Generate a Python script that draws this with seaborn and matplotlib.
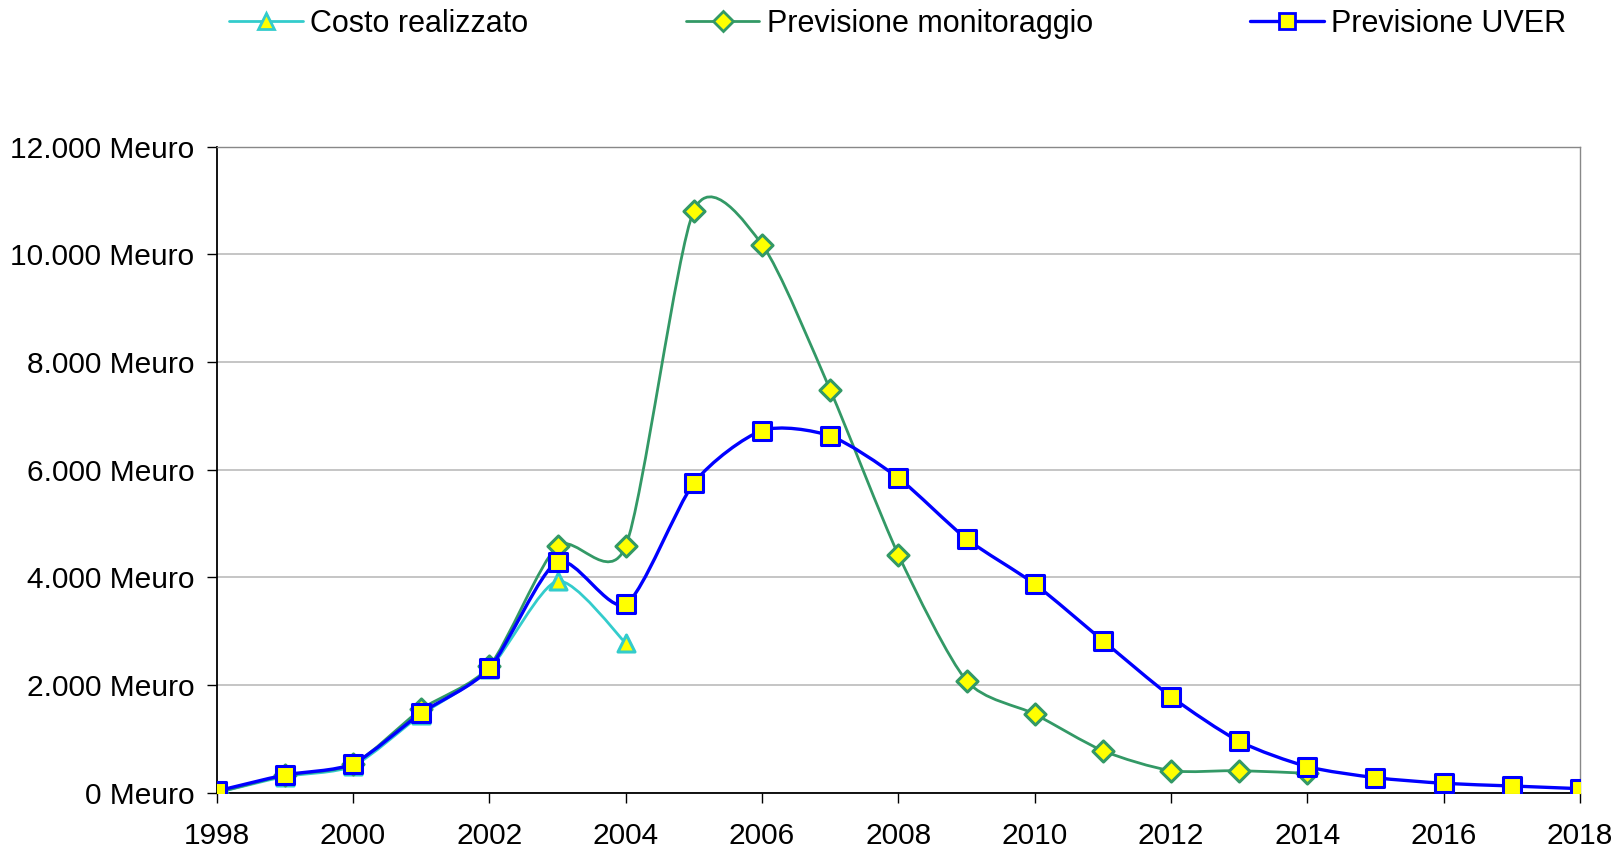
import numpy as np
import pandas as pd
import matplotlib
matplotlib.use("Agg")
import matplotlib.pyplot as plt
import seaborn as sns
from matplotlib.path import Path
from matplotlib.patches import PathPatch
from matplotlib.lines import Line2D
from matplotlib.ticker import FuncFormatter, MultipleLocator

# ---- data ----
years_costo = [1998, 1999, 2000, 2001, 2002, 2003, 2004]
costo = [0, 300, 500, 1450, 2300, 3930, 2780]

years_monit = list(range(1998, 2015))
monit = [0, 320, 530, 1550, 2350, 4580, 4580, 10810, 10180, 7480,
         4420, 2080, 1460, 780, 410, 410, 360]

years_uver = list(range(1998, 2019))
uver = [30, 330, 540, 1480, 2310, 4290, 3500, 5750, 6725, 6625,
        5845, 4715, 3875, 2825, 1785, 955, 485, 280, 175, 125, 75]

labels = ["Costo realizzato", "Previsione monitoraggio", "Previsione UVER"]
colors = ["#33CCCC", "#339966", "#0000FF"]
markers = ["^", "D", "s"]

sns.set_theme(style="white")
plt.rcParams['font.family'] = ['Liberation Sans', 'DejaVu Sans']
plt.rcParams['text.color'] = 'black'
plt.rcParams['xtick.color'] = 'black'
plt.rcParams['ytick.color'] = 'black'

fig = plt.figure(figsize=(16.15, 8.49), dpi=100)
ax = fig.add_axes([0.1342, 0.0663, 0.8441, 0.7611])

TENSION = 0.125


def smooth_path(xs, ys):
    """Excel-like smoothed line: cubic Bezier through the points."""
    pts = np.column_stack([xs, ys]).astype(float)
    n = len(pts)
    verts = [tuple(pts[0])]
    codes = [Path.MOVETO]
    for i in range(n - 1):
        p0 = pts[i - 1] if i > 0 else pts[i]
        p1 = pts[i]
        p2 = pts[i + 1]
        p3 = pts[i + 2] if i + 2 < n else pts[i + 1]
        c1 = p1 + (p2 - p0) * TENSION
        c2 = p2 - (p3 - p1) * TENSION
        verts += [tuple(c1), tuple(c2), tuple(p2)]
        codes += [Path.CURVE4] * 3
    return Path(verts, codes)


series = [(years_costo, costo), (years_monit, monit), (years_uver, uver)]
lws = [2.0, 2.0, 2.4]
msizes = [150, 115, 160]
for k, (xs, ys) in enumerate(series):
    patch = PathPatch(smooth_path(xs, ys), facecolor="none",
                      edgecolor=colors[k], lw=lws[k], zorder=2 + 2 * k)
    ax.add_patch(patch)
    df = pd.DataFrame({"anno": xs, "valore": ys})
    sns.scatterplot(data=df, x="anno", y="valore", ax=ax, marker=markers[k],
                    s=msizes[k], color="#FFFF00", edgecolor=colors[k],
                    linewidth=2.2, zorder=3 + 2 * k, legend=False)

ax.set_xlim(1998, 2018)
ax.set_ylim(0, 12000)
ax.xaxis.set_major_locator(MultipleLocator(2))
ax.yaxis.set_major_locator(MultipleLocator(2000))
ax.yaxis.set_major_formatter(
    FuncFormatter(lambda v, p: f"{v:,.0f}".replace(",", ".") + " Meuro"))
ax.set_xlabel("")
ax.set_ylabel("")
ax.grid(axis="y", color="#BBBBBB", lw=1.2)
ax.set_axisbelow(True)
for side in ["left", "bottom"]:
    ax.spines[side].set_color("black")
    ax.spines[side].set_linewidth(1.3)
for side in ["top", "right"]:
    ax.spines[side].set_color("#888888")
    ax.spines[side].set_linewidth(1.0)
ax.tick_params(axis="both", which="major", labelsize=21.5, direction="out",
               length=7, width=1.0, color="black", left=True, bottom=True,
               pad=9)
ax.tick_params(axis="x", pad=14)

handles = [Line2D([0], [0], color=colors[k], lw=lws[k], marker=markers[k],
                  markersize=11 if k != 1 else 10, markerfacecolor="#FFFF00",
                  markeredgecolor=colors[k], markeredgewidth=2)
           for k in range(3)]
fig.legend(handles, labels, loc="center", bbox_to_anchor=(0.556, 0.972),
           ncol=3, frameon=False, fontsize=22, handlelength=2.4,
           handletextpad=0.25, columnspacing=5.15)

fig.savefig("out.png", dpi=100)
